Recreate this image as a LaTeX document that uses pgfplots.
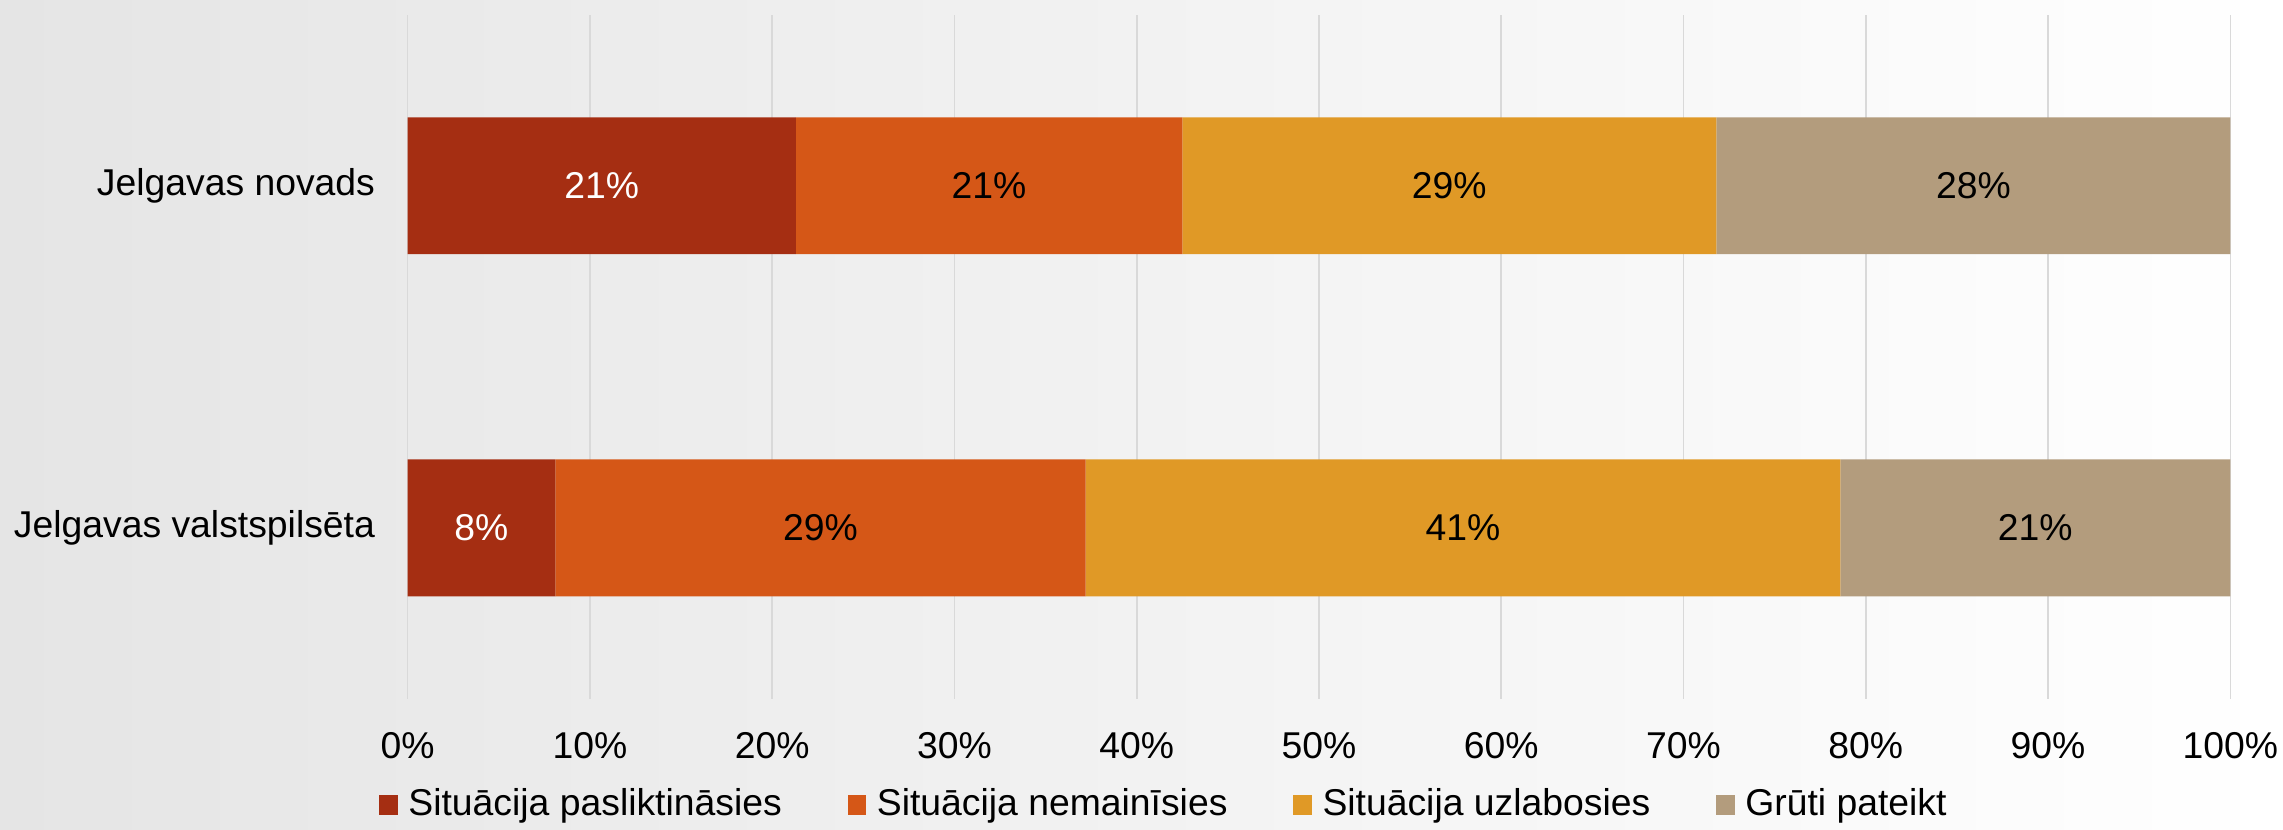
\documentclass[border=0pt]{standalone}
\usepackage{fontspec}
\setmainfont{Liberation Sans}
\usepackage{pgfplots}
\pgfplotsset{compat=1.18}
\definecolor{c1}{RGB}{165,46,18}
\definecolor{c2}{RGB}{213,87,23}
\definecolor{c3}{RGB}{224,153,38}
\definecolor{c4}{RGB}{179,156,125}
\definecolor{bgl}{RGB}{229,229,229}
\definecolor{gridc}{RGB}{217,217,217}
\begin{document}
\fontsize{11.2pt}{13pt}\selectfont
\begin{tikzpicture}
\shade[left color=bgl, right color=white] (0,0) rectangle (685pt,249pt);
\begin{axis}[
  at={(122.3pt,39.3pt)}, anchor=south west,
  scale only axis, width=546.9pt, height=205.3pt,
  xbar stacked, bar width=0.4,
  xmin=0, xmax=100, ymin=0.5, ymax=2.5,
  ytick={1,2},
  yticklabels={Jelgavas valstspilsēta, Jelgavas novads},
  xtick={0,10,...,100},
  xticklabels={0\%,10\%,20\%,30\%,40\%,50\%,60\%,70\%,80\%,90\%,100\%},
  xmajorgrids, grid style={gridc, line width=0.5pt},
  axis line style={draw=none},
  major tick length=0pt,
  tick label style={inner sep=0pt},
  yticklabel style={xshift=-9.6pt},
  xticklabel style={yshift=-10pt},
  /pgf/number format/.cd, fixed, precision=0, assume math mode=true, /pgfplots/.cd,
  nodes near coords={\pgfmathprintnumber{\pgfplotspointmeta}\%},
  point meta=explicit,
  every node near coord/.append style={anchor=center, text=black, inner sep=0pt},
  legend columns=4,
  legend style={at={(-0.016,-0.155)}, anchor=west, draw=none, fill=none, inner sep=0pt,
    nodes={inner sep=0pt, anchor=west},
    /tikz/every odd column/.append style={column sep=3.2pt},
    /tikz/every even column/.append style={column sep=19.7pt}},
  legend image code/.code={\fill[#1] (0pt,-2.9pt) rectangle (5.6pt,2.9pt);},
]
\addplot[fill=c1, draw=none, every node near coord/.append style={text=white}]
  table[x=v, y=y, meta=v, row sep=\\] {y v\\ 2 21.3\\ 1 8.1\\};
\addplot[fill=c2, draw=none]
  table[x=v, y=y, meta=v, row sep=\\] {y v\\ 2 21.2\\ 1 29.1\\};
\addplot[fill=c3, draw=none]
  table[x=v, y=y, meta=v, row sep=\\] {y v\\ 2 29.3\\ 1 41.4\\};
\addplot[fill=c4, draw=none]
  table[x=v, y=y, meta=v, row sep=\\] {y v\\ 2 28.2\\ 1 21.4\\};
\legend{Situācija pasliktināsies, Situācija nemainīsies, Situācija uzlabosies, Grūti pateikt}
\end{axis}
\end{tikzpicture}
\end{document}
